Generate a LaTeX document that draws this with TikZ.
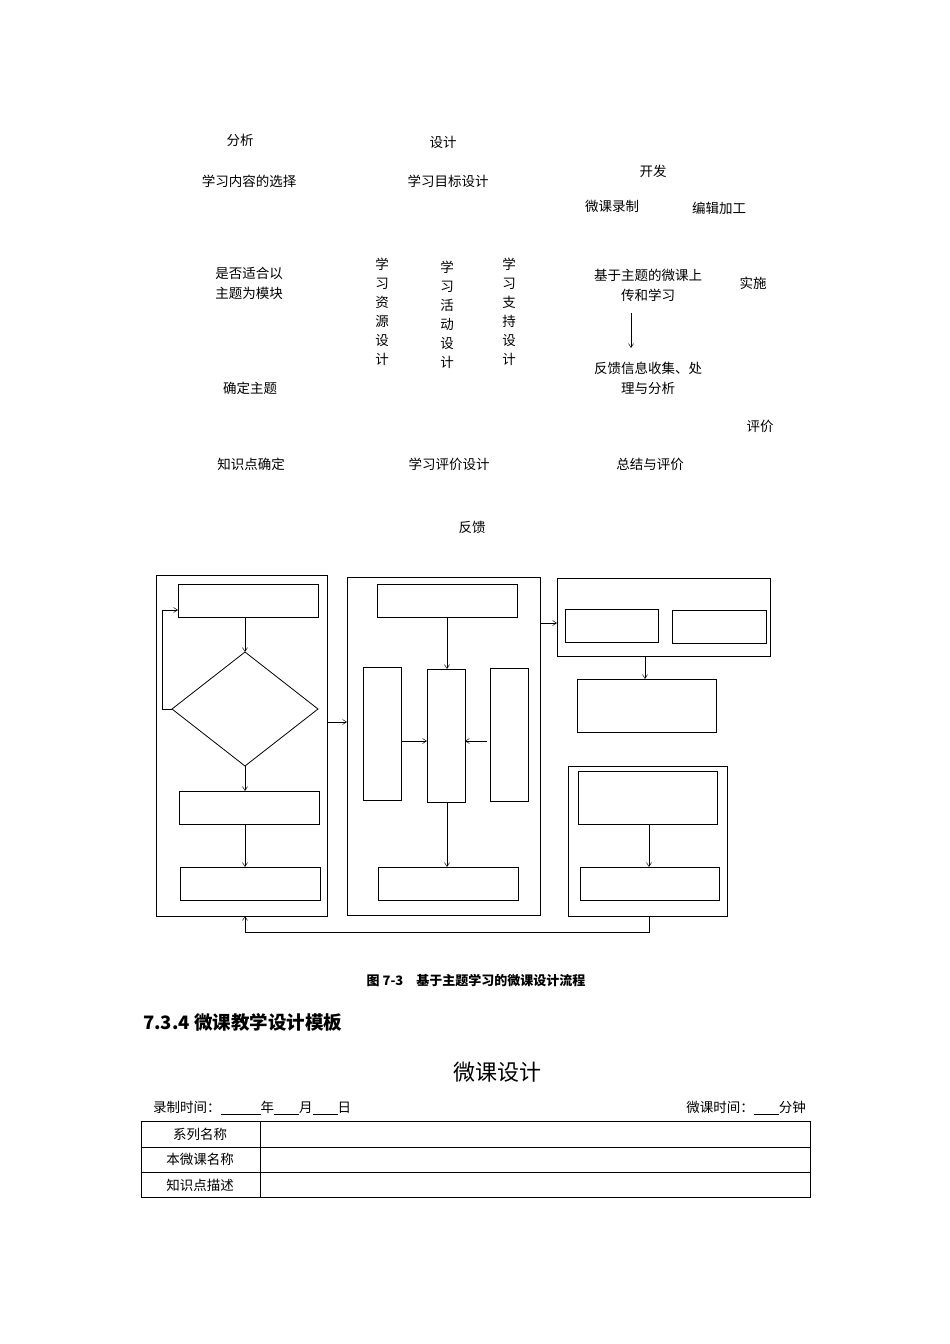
\documentclass[tikz,border=0pt]{standalone}
\usepackage{fontspec}
\setmainfont{Noto Sans CJK SC}
\usetikzlibrary{arrows.meta}
\begin{document}
\begin{tikzpicture}[x=1pt,y=-1pt,
  bx/.style={draw,line width=0.8pt,inner sep=0},
  arr/.style={-{Straight Barb[length=4pt,width=5pt]},line width=0.5pt},
  tx/.style={font=\fontsize{13.5}{20}\selectfont,align=center,inner sep=0},
  vt/.style={font=\fontsize{13.5}{19}\selectfont,align=center,inner sep=0}]
\useasboundingbox (0,0) rectangle (950,1344);
% texts
\node[tx] (t1) at (240,140) {分析};
\node[tx] (t2) at (443,142) {设计};
\node[tx] (t3) at (249,181) {学习内容的选择};
\node[tx] (t4) at (448,181) {学习目标设计};
\node[tx] (t5) at (653,171) {开发};
\node[tx] (t6) at (612,206) {微课录制};
\node[tx] (t7) at (719,208) {编辑加工};
\node[tx] (t8) at (249,283) {是否适合以\\主题为模块};
\node[vt] (t9) at (382,312) {学\\习\\资\\源\\设\\计};
\node[vt] (t10) at (447,315) {学\\习\\活\\动\\设\\计};
\node[vt] (t11) at (509,312) {学\\习\\支\\持\\设\\计};
\node[tx] (t12) at (648,285) {基于主题的微课上\\传和学习};
\node[tx] (t13) at (753,283) {实施};
\coordinate (a1) at (631,313); \coordinate (a2) at (631,348);
\draw[arr] (a1) -- (a2);
\node[tx] (t14) at (648,378) {反馈信息收集、处\\理与分析};
\node[tx] (t15) at (250,388) {确定主题};
\node[tx] (t16) at (760,426) {评价};
\node[tx] (t17) at (251,464) {知识点确定};
\node[tx] (t18) at (449,464) {学习评价设计};
\node[tx] (t19) at (650,464) {总结与评价};
\node[tx] (t20) at (472,527) {反馈};
% left
\draw[bx] (156,575) rectangle (327,916);
\draw[bx] (178,584) rectangle (318,617);
\draw[bx] (172,709) -- (245,652) -- (318,709) -- (245,766) -- cycle;
\draw[bx] (179,791) rectangle (319,824);
\draw[bx] (180,867) rectangle (320,900);
\coordinate (l1) at (245,617); \coordinate (l2) at (245,652);
\draw[arr] (l1) -- (l2);
\coordinate (l3) at (245,766); \coordinate (l4) at (245,791);
\draw[arr] (l3) -- (l4);
\coordinate (l5) at (245,824); \coordinate (l6) at (245,867);
\draw[arr] (l5) -- (l6);
\coordinate (lp1) at (172,709); \coordinate (lp2) at (178,610);
\draw[arr] (lp1) -- (162,709) -- (162,610) -- (lp2);
\coordinate (c1) at (327,722); \coordinate (c2) at (347,722);
\draw[arr] (c1) -- (c2);
% middle
\draw[bx] (347,577) rectangle (540,915);
\draw[bx] (377,584) rectangle (517,617);
\draw[bx] (363,667) rectangle (401,800);
\draw[bx] (427,669) rectangle (465,802);
\draw[bx] (490,668) rectangle (528,801);
\draw[bx] (378,867) rectangle (518,900);
\coordinate (m1) at (447,617); \coordinate (m2) at (447,669);
\draw[arr] (m1) -- (m2);
\coordinate (m3) at (401,741); \coordinate (m4) at (427,741);
\draw[arr] (m3) -- (m4);
\coordinate (m5) at (487,741); \coordinate (m6) at (465,741);
\draw[arr] (m5) -- (m6);
\coordinate (m7) at (447,802); \coordinate (m8) at (447,867);
\draw[arr] (m7) -- (m8);
\coordinate (c3) at (541,623); \coordinate (c4) at (557,623);
\draw[arr] (c3) -- (c4);
% right
\draw[bx] (557,578) rectangle (770,656);
\draw[bx] (565,609) rectangle (658,642);
\draw[bx] (672,610) rectangle (766,643);
\draw[bx] (577,679) rectangle (716,732);
\coordinate (r1) at (645,656); \coordinate (r2) at (645,679);
\draw[arr] (r1) -- (r2);
\draw[bx] (568,766) rectangle (727,916);
\draw[bx] (578,771) rectangle (717,824);
\draw[bx] (580,867) rectangle (719,900);
\coordinate (r3) at (649,824); \coordinate (r4) at (649,867);
\draw[arr] (r3) -- (r4);
\coordinate (f1) at (649,916); \coordinate (f2) at (245,916);
\draw[arr] (f1) -- (649,932) -- (245,932) -- (f2);
% caption and table
\node[font=\fontsize{13}{15}\selectfont\bfseries,inner sep=0] (cap) at (476,981) {图 7-3\quad 基于主题学习的微课设计流程};
\node[font=\fontsize{18.5}{22}\selectfont\bfseries,anchor=west,inner sep=0] (hd) at (143,1022) {7.3.4\ 微课教学设计模板};
\node[font=\fontsize{22}{24}\selectfont,inner sep=0] (ti) at (497,1072) {微课设计};
\node[tx,anchor=west] (lt) at (153,1108) {录制时间：\underline{\hspace{40pt}}年\underline{\hspace{25pt}}月\underline{\hspace{25pt}}日};
\node[tx,anchor=east] (rt) at (806,1108) {微课时间：\underline{\hspace{25pt}}分钟};
\draw[line width=0.8pt] (141,1121) rectangle (810,1197);
\draw[line width=0.5pt] (141,1147) -- (810,1147) (141,1172) -- (810,1172) (260,1121) -- (260,1197);
\node[tx] (r1t) at (200,1134) {系列名称};
\node[tx] (r2t) at (200,1159) {本微课名称};
\node[tx] (r3t) at (200,1185) {知识点描述};
\end{tikzpicture}
\end{document}
